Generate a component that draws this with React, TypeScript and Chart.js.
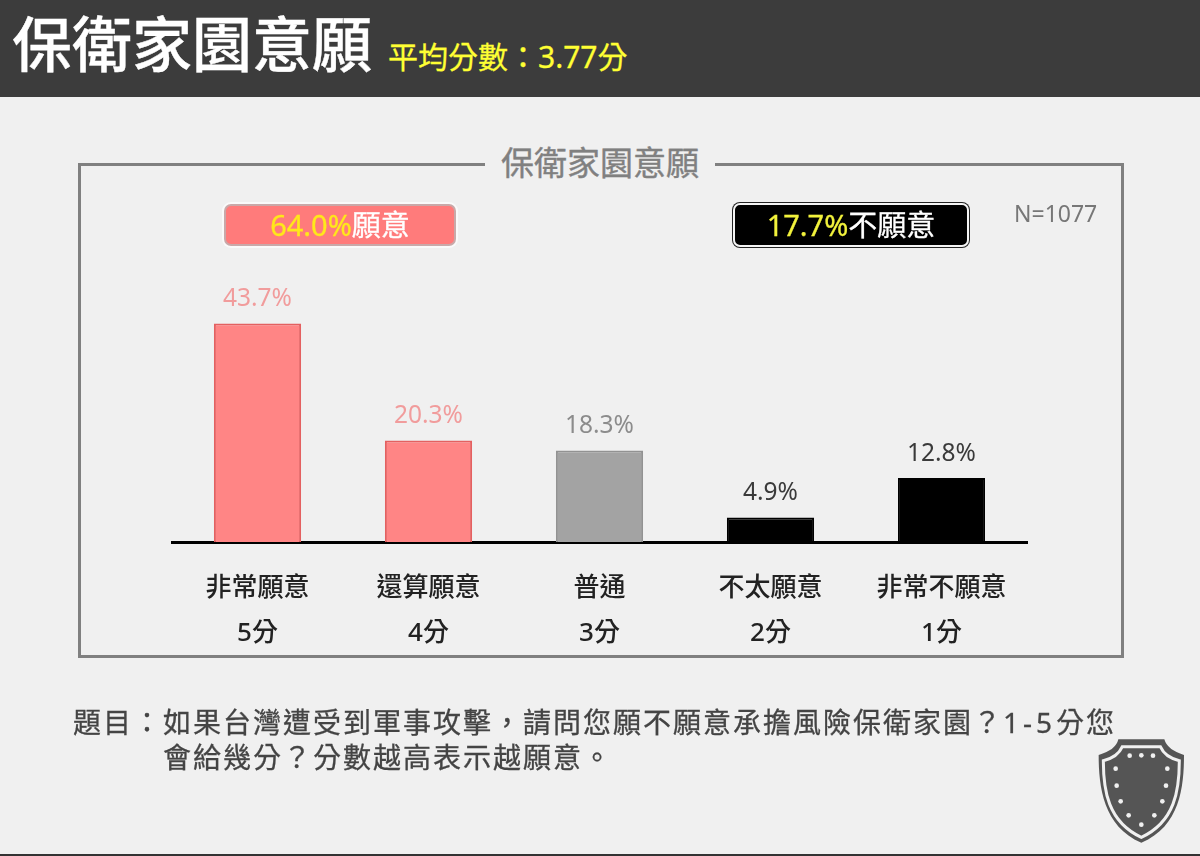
import { useEffect, useRef } from "react";
import type { CSSProperties } from "react";
import { Chart, registerables } from "chart.js";

Chart.register(...registerables);

const FONT = '"Noto Sans", "Noto Sans CJK TC", sans-serif';

const categories = ["非常願意", "還算願意", "普通", "不太願意", "非常不願意"];
const scores = ["5分", "4分", "3分", "2分", "1分"];
const percents = [43.7, 20.3, 18.3, 4.9, 12.8];

const barColors = ["#ff8585", "#ff8585", "#a3a3a3", "#000000", "#000000"];
const barBorders = ["#e46060", "#e46060", "#929292", "#000000", "#000000"];
const labelColors = ["#f19c9c", "#f19c9c", "#8c8c8c", "#3a3a3a", "#3a3a3a"];

const shieldDots = [
  [209, 107], [244, 106], [279, 107], [167, 146], [322, 146], [170, 197],
  [318, 197], [182, 244], [307, 244], [206, 286], [283, 286], [244, 314],
];

// draws the percent above each bar
const valueLabels = {
  id: "valueLabels",
  afterDatasetsDraw(chart: Chart) {
    const ctx = chart.ctx;
    ctx.save();
    ctx.font = `24.5px ${FONT}`;
    ctx.textAlign = "center";
    ctx.textBaseline = "middle";
    chart.getDatasetMeta(0).data.forEach((bar, i) => {
      ctx.fillStyle = labelColors[i];
      ctx.fillText(`${percents[i].toFixed(1)}%`, bar.x, bar.y - 24);
    });
    ctx.restore();
  },
};

const abs = (left: number, top: number, extra: CSSProperties = {}): CSSProperties => ({
  position: "absolute",
  left,
  top,
  whiteSpace: "nowrap",
  ...extra,
});

export default function App() {
  const ref = useRef<HTMLCanvasElement | null>(null);

  useEffect(() => {
    if (!ref.current) return;
    const chart = new Chart(ref.current, {
      type: "bar",
      data: {
        labels: categories.map((c, i) => [c, scores[i]]),
        datasets: [
          {
            data: percents,
            backgroundColor: barColors,
            borderColor: barBorders,
            borderWidth: 2,
            categoryPercentage: 1,
            barPercentage: 0.51,
          },
        ],
      },
      options: {
        responsive: false,
        animation: false,
        layout: { padding: { left: 172, right: 173, top: 292, bottom: 194 } },
        plugins: {
          legend: { display: false },
          tooltip: { enabled: false },
        },
        scales: {
          x: {
            grid: { display: false, drawTicks: false },
            border: { color: "#000000", width: 3 },
            ticks: {
              color: "#222222",
              padding: 24,
              maxRotation: 0,
              font: { family: FONT, size: 26, lineHeight: 1.73, weight: "500" },
            },
            afterFit: (scale) => {
              scale.height = 120;
            },
          },
          y: { display: false, min: 0, max: 50 },
        },
      },
      plugins: [valueLabels],
    });
    return () => chart.destroy();
  }, []);

  return (
    <div
      style={{
        position: "absolute",
        left: 0,
        top: 0,
        width: 1200,
        height: 856,
        overflow: "hidden",
        background: "#f0f0f0",
        fontFamily: FONT,
      }}
    >
      <div style={abs(0, 0, { width: 1200, height: 97, background: "#3c3c3c" })} />
      <div
        style={abs(12, 7, {
          fontSize: 60,
          lineHeight: "74px",
          color: "#ffffff",
          fontWeight: 500,
          WebkitTextStroke: "0.4px #ffffff",
        })}
      >
        保衛家園意願
      </div>
      <div
        style={abs(388, 37, {
          fontSize: 30,
          lineHeight: "40px",
          color: "#ffff33",
          WebkitTextStroke: "0.3px #ffff33",
        })}
      >
        平均分數：3.77分
      </div>

      <div style={abs(78, 163, { width: 1040, height: 489, border: "3px solid #808080" })} />
      <div
        style={abs(485, 140, {
          width: 230,
          height: 46,
          background: "#f0f0f0",
          textAlign: "center",
          fontSize: 33,
          lineHeight: "46px",
          color: "#808080",
          WebkitTextStroke: "0.4px #808080",
        })}
      >
        保衛家園意願
      </div>

      <canvas ref={ref} width={1200} height={856} style={abs(0, 0, { display: "block" })} />

      <div
        style={abs(224, 204, {
          width: 228,
          height: 38,
          background: "#ff7b7b",
          border: "2px solid #c9a9a9",
          boxShadow: "0 0 0 2px #fafafa",
          borderRadius: 7,
          textAlign: "center",
          fontSize: 29,
          lineHeight: "38px",
          color: "#ffe81a",
          WebkitTextStroke: "0.3px",
        })}
      >
        64.0%<span style={{ color: "#ffffff" }}>願意</span>
      </div>
      <div
        style={abs(733, 203, {
          width: 232,
          height: 40,
          background: "#000000",
          border: "2px solid #f5f5f5",
          boxShadow: "0 0 0 1px #222222",
          borderRadius: 7,
          textAlign: "center",
          fontSize: 29,
          lineHeight: "40px",
          color: "#f2f23c",
          WebkitTextStroke: "0.3px",
        })}
      >
        17.7%<span style={{ color: "#ffffff" }}>不願意</span>
      </div>
      <div style={abs(1014, 197, { fontSize: 23, lineHeight: "32px", color: "#777777" })}>N=1077</div>

      <div
        style={abs(73, 702, {
          fontSize: 28,
          lineHeight: "40px",
          color: "#444444",
          letterSpacing: 2,
          WebkitTextStroke: "0.3px #444444",
        })}
      >
        題目：如果台灣遭受到軍事攻擊，請問您願不願意承擔風險保衛家園？
        <span style={{ letterSpacing: 4 }}>1-5</span>分您
      </div>
      <div
        style={abs(163, 737, {
          fontSize: 28,
          lineHeight: "40px",
          color: "#444444",
          letterSpacing: 2,
          WebkitTextStroke: "0.3px #444444",
        })}
      >
        會給幾分？分數越高表示越願意。
      </div>

      <svg width={140} height={136} viewBox="0 0 420 408" style={abs(1060, 720)}>
        <path
          d="M175,58 L313,58 Q322,90 372,105 C372,200 360,320 244,368 C130,320 116,200 116,105 Q168,90 175,58 Z"
          fill="#555555"
        />
        <path
          d="M187,80 L301,80 Q315,112 358,122 C358,210 345,305 244,352 C143,305 130,210 130,122 Q173,112 187,80 Z"
          fill="#555555"
          stroke="#f0f0f0"
          strokeWidth={9}
        />
        {shieldDots.map(([x, y]) => (
          <circle key={`${x}-${y}`} cx={x} cy={y} r={7} fill="#f0f0f0" />
        ))}
      </svg>

      <div style={abs(0, 854, { width: 1200, height: 2, background: "#333333" })} />
    </div>
  );
}
